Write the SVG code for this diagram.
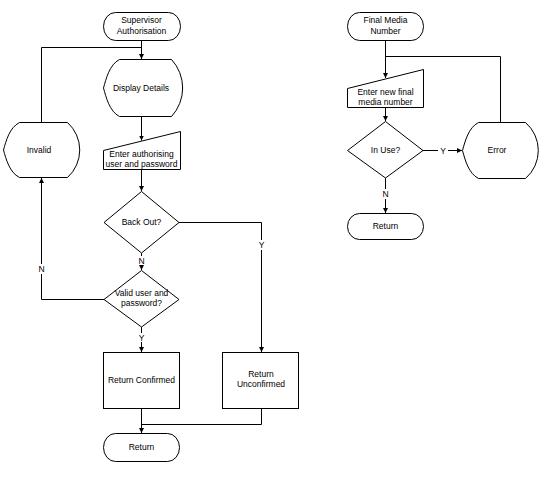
<svg xmlns="http://www.w3.org/2000/svg" width="554" height="487" viewBox="0 0 554 487">
<style>
.s{fill:#fff;stroke:#000;stroke-width:1}
.c{fill:none;stroke:#000;stroke-width:1}
text{font-family:"Liberation Sans",Arial,sans-serif;font-size:8.5px;fill:#000;text-anchor:middle}
.lb{fill:#fff;stroke:none}
</style>
<defs>
<marker id="ah" markerWidth="6" markerHeight="6" refX="5" refY="3" orient="auto" markerUnits="userSpaceOnUse">
<path d="M0,0.5 L5,3 L0,5.5 Z" fill="#000"/>
</marker>
</defs>
<rect width="554" height="487" fill="#fff"/>
<g id="connectors">
<path class="c" d="M141.5,40 V59" marker-end="url(#ah)"/>
<path class="c" d="M41.5,122 V47.5 H141.5"/>
<path class="c" d="M141.5,117 V140.5" marker-end="url(#ah)"/>
<path class="c" d="M141.5,169 V191" marker-end="url(#ah)"/>
<path class="c" d="M179,222.5 H261.5 V352" marker-end="url(#ah)"/>
<path class="c" d="M141.5,253 V270" marker-end="url(#ah)"/>
<path class="c" d="M104,299.5 H41.5 V178" marker-end="url(#ah)"/>
<path class="c" d="M141.5,327 V352" marker-end="url(#ah)"/>
<path class="c" d="M141.5,409 V433" marker-end="url(#ah)"/>
<path class="c" d="M261.5,409 V424.5 H141.5"/>
<path class="c" d="M385.5,40 V78" marker-end="url(#ah)"/>
<path class="c" d="M500.5,122 V56.5 H385.5"/>
<path class="c" d="M385.5,107 V121" marker-end="url(#ah)"/>
<path class="c" d="M423,150.5 H462" marker-end="url(#ah)"/>
<path class="c" d="M385.5,178 V213" marker-end="url(#ah)"/>
<rect class="lb" x="257" y="240" width="9" height="10"/>
<text x="261.5" y="248">Y</text>
<rect class="lb" x="137" y="256" width="9" height="9"/>
<text x="141.5" y="263.5">N</text>
<rect class="lb" x="37" y="264" width="9" height="10"/>
<text x="41.5" y="272">N</text>
<rect class="lb" x="137" y="333" width="9" height="9"/>
<text x="141.5" y="340.5">Y</text>
<rect class="lb" x="438" y="146" width="10" height="9"/>
<text x="443" y="153.5">Y</text>
<rect class="lb" x="381" y="189" width="9" height="10"/>
<text x="385.5" y="197">N</text>
</g>
<g id="supervisor">
<rect class="s" x="103.5" y="12.5" width="77" height="28" rx="12" ry="14"/>
<text x="141.5" y="23">Supervisor</text>
<text x="141.5" y="34">Authorisation</text>
</g>
<g id="display-details">
<path class="s" d="M103.5,88 C106,79 109.5,64.5 119.5,59.5 H171.5 A42,42 0 0 1 171.5,116.5 H119.5 C109.5,111.5 106,97 103.5,88 Z"/>
<text x="141" y="91">Display Details</text>
</g>
<g id="enter-auth">
<path class="s" d="M103.5,150.5 L180.5,131.5 V169.5 H103.5 Z"/>
<text x="141.5" y="157">Enter authorising</text>
<text x="141.5" y="167">user and password</text>
</g>
<g id="invalid">
<path class="s" d="M3.5,150 C6,141 9.5,127.5 19.5,122.5 H67.5 A37,37 0 0 1 67.5,177.5 H19.5 C9.5,172.5 6,159 3.5,150 Z"/>
<text x="39" y="153">Invalid</text>
</g>
<g id="back-out">
<path class="s" d="M141.5,191.5 L179,222.5 L141.5,253 L104,222.5 Z"/>
<text x="141.5" y="225">Back Out?</text>
</g>
<g id="valid">
<path class="s" d="M141.5,270.5 L179,299.5 L141.5,327 L104,299.5 Z"/>
<text x="141.5" y="296">Valid user and</text>
<text x="141.5" y="306">password?</text>
</g>
<g id="return-confirmed">
<rect class="s" x="103.5" y="352.5" width="76" height="56"/>
<text x="141.5" y="383">Return Confirmed</text>
</g>
<g id="return-unconfirmed">
<rect class="s" x="222.5" y="352.5" width="76" height="56"/>
<text x="261" y="377">Return</text>
<text x="261" y="387">Unconfirmed</text>
</g>
<g id="return-left">
<rect class="s" x="103.5" y="433.5" width="76" height="28" rx="12" ry="14"/>
<text x="141.5" y="450">Return</text>
</g>
<g id="final-media">
<rect class="s" x="347.5" y="12.5" width="76" height="28" rx="12" ry="14"/>
<text x="385.5" y="23">Final Media</text>
<text x="385.5" y="34">Number</text>
</g>
<g id="enter-new">
<path class="s" d="M347.5,88.5 L423.5,69.5 V107.5 H347.5 Z"/>
<text x="385.5" y="95">Enter new final</text>
<text x="385.5" y="105">media number</text>
</g>
<g id="in-use">
<path class="s" d="M385.5,121.5 L423,150.5 L385.5,178 L347.5,150.5 Z"/>
<text x="385.5" y="153">In Use?</text>
</g>
<g id="error">
<path class="s" d="M462.5,150.5 C465,141.5 468.5,127.5 478.5,122.5 H525.5 A37,37 0 0 1 525.5,178.5 H478.5 C468.5,173.5 465,159.5 462.5,150.5 Z"/>
<text x="497" y="153">Error</text>
</g>
<g id="return-right">
<rect class="s" x="347.5" y="213.5" width="76" height="26" rx="12" ry="13"/>
<text x="385.5" y="229">Return</text>
</g>
</svg>
